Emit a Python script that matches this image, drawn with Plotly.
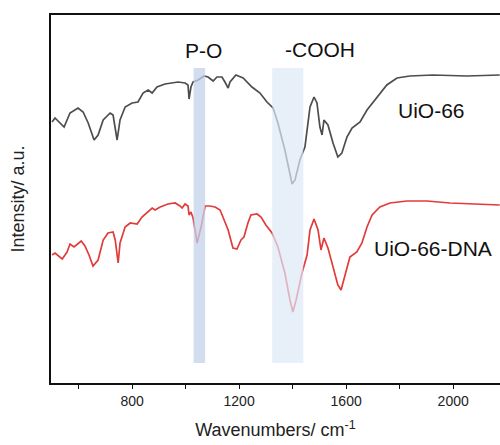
import plotly.graph_objects as go

# wavenumbers (cm-1) and relative intensity (a.u.)
wn_uio = [501, 512, 546, 568, 598, 617, 636, 658, 673, 692, 718, 729, 744, 755, 774, 800,
          822, 841, 860, 875, 893, 923, 972, 998, 1009, 1013, 1020, 1028, 1047, 1069, 1084,
          1103, 1117, 1136, 1147, 1159, 1166, 1188, 1215, 1248, 1278, 1304, 1327, 1345, 1371,
          1390, 1398, 1409, 1427, 1446, 1465, 1480, 1491, 1502, 1510, 1517, 1532, 1551, 1569,
          1584, 1603, 1622, 1652, 1678, 1715, 1752, 1790, 1838, 1924, 2051, 2174]
int_uio = [261, 265, 256, 270, 275, 271, 260, 243, 248, 263, 270, 268, 243, 263, 276, 280,
           281, 290, 293, 290, 296, 299, 301, 300, 298, 284, 296, 301, 303, 307, 306,
           302, 306, 306, 301, 295, 301, 308, 305, 296, 290, 281, 275, 260, 233,
           210, 199, 203, 223, 236, 276, 286, 280, 256, 248, 263, 258, 240, 226,
           230, 246, 255, 261, 273, 286, 298, 305, 307, 308, 307, 308]

wn_dna = [501, 512, 539, 557, 568, 583, 610, 624, 639, 654, 673, 692, 710, 729, 737, 748,
          755, 774, 793, 819, 837, 875, 886, 905, 934, 961, 979, 987, 998, 1009, 1013, 1020,
          1028, 1043, 1058, 1073, 1091, 1110, 1129, 1140, 1159, 1177, 1192, 1207, 1218, 1233,
          1244, 1267, 1282, 1300, 1323, 1345, 1371, 1390, 1401, 1413, 1435, 1454, 1465, 1480,
          1495, 1506, 1517, 1532, 1551, 1569, 1581, 1588, 1603, 1614, 1640, 1659, 1678, 1697,
          1726, 1764, 1827, 1902, 1988, 2074, 2174]
int_dna = [128, 130, 124, 131, 139, 136, 142, 137, 128, 117, 123, 143, 150, 151, 143, 120,
           140, 156, 160, 159, 166, 175, 173, 176, 179, 180, 177, 175, 179, 177, 168, 171,
           165, 140, 156, 177, 177, 176, 173, 166, 153, 135, 134, 143, 146, 160,
           168, 169, 166, 158, 150, 136, 110, 83, 71, 83, 110, 128, 153, 164,
           153, 133, 145, 135, 116, 98, 93, 100, 116, 126, 131, 140, 156, 168,
           176, 180, 182, 182, 180, 179, 178]

FONT = "Liberation Sans, Arial, sans-serif"

fig = go.Figure()
fig.add_trace(go.Scatter(x=wn_uio, y=int_uio, mode="lines", name="UiO-66",
                         line=dict(color="#4d4d4d", width=1.7)))
fig.add_trace(go.Scatter(x=wn_dna, y=int_dna, mode="lines", name="UiO-66-DNA",
                         line=dict(color="#e23b3b", width=1.7)))

# highlighted bands
fig.add_shape(type="rect", x0=1030, x1=1073, y0=20, y1=315, layer="above",
              fillcolor="#c3d1ea", opacity=0.75, line_width=0)
fig.add_shape(type="rect", x0=1324, x1=1440, y0=20, y1=315, layer="above",
              fillcolor="#dde8f7", opacity=0.7, line_width=0)

labels = [("P-O", 1068, 333), ("-COOH", 1502, 334), ("UiO-66", 1920, 273), ("UiO-66-DNA", 1925, 135)]
for txt, x, y in labels:
    fig.add_annotation(x=x, y=y, text=txt, showarrow=False, xanchor="center", yanchor="middle",
                       font=dict(size=21, color="#111111", family=FONT))

fig.update_layout(
    width=500, height=445,
    margin=dict(l=51, r=0, t=15, b=62),
    plot_bgcolor="white", paper_bgcolor="white",
    showlegend=False,
    font=dict(family=FONT, color="#222222"),
)
fig.update_xaxes(range=[497, 2175], showgrid=False, zeroline=False, automargin=False,
                 showline=True, linecolor="#111111", linewidth=1.5, mirror=True,
                 ticks="outside", ticklen=4, tickwidth=1.2, tickcolor="#111111",
                 tick0=800, dtick=400, tickfont=dict(size=14),
                 minor=dict(ticks="outside", dtick=200, tick0=600, ticklen=4,
                            tickwidth=1.2, tickcolor="#111111"),
                 title=dict(text="Wavenumbers/ cm<sup>-1</sup>", font=dict(size=18), standoff=16))
fig.update_yaxes(range=[0, 368], showgrid=False, zeroline=False, automargin=False,
                 showline=True, linecolor="#111111", linewidth=1.5,
                 showticklabels=False, ticks="",
                 title=dict(text="Intensity/ a.u.", font=dict(size=18), standoff=20))

# drop the default page margin so the figure sits at the window's corner
fig.write_html("out.html", config={"displayModeBar": False},
               post_script="document.body.style.margin='0';")
